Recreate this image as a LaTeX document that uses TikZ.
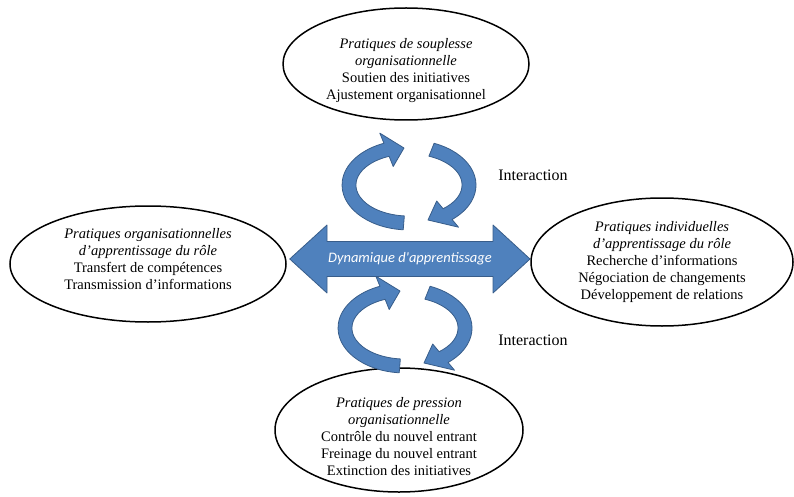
\documentclass[tikz,border=0pt]{standalone}
\usepackage{fontspec}
\setmainfont{Liberation Serif}
\newfontfamily\carlito{Carlito}
\usepackage{tikz}
\usetikzlibrary{shapes.geometric, calc}
\definecolor{loopblue}{HTML}{4F81BD}
\definecolor{edgeblue}{HTML}{385D8A}

\tikzset{
    turnpair/.pic={
        \filldraw[cyclearrow] (-5.8,44.8) arc[start angle=-95, end angle=-248, x radius=67pt, y radius=45pt]
            -- (-29.2,-51.9) -- (-5,-37) -- (-15.8,-18.5) -- (-19.9,-28.7)
            arc[start angle=-248, end angle=-95, x radius=53pt, y radius=31pt] -- cycle;
        \filldraw[cyclearrow] (25.1,-41.7) arc[start angle=-292, end angle=-410, x radius=67pt, y radius=45pt]
            -- (49.5,42.2) -- (19,35) -- (27.7,16) -- (34.1,23.7)
            arc[start angle=-410, end angle=-292, x radius=53pt, y radius=31pt] -- cycle;
    }
}

\begin{document}
\begin{tikzpicture}[
    x=1pt, y=-1pt,
    practice/.style={ellipse, draw, line width=1.5pt, inner sep=0pt},
    practicetext/.style={align=center, font=\fontsize{14.5}{17}\selectfont, inner sep=0pt},
    cyclearrow/.style={fill=loopblue, draw=edgeblue, line width=0.8pt, line join=round},
    dynarrow/.style={fill=loopblue, draw=edgeblue, line width=0.8pt, line join=round}
]
\useasboundingbox (0,0) rectangle (794,497);

% the four practices
\node[practice, minimum width=246pt, minimum height=112pt] (soup) at (406,64) {};
\node[practicetext, yshift=-7pt] (souptxt) at (soup) {\textit{Pratiques de souplesse}\\\textit{organisationnelle}\\Soutien des initiatives\\Ajustement organisationnel};

\node[practice, minimum width=276pt, minimum height=116pt] (orga) at (148,264) {};
\node[practicetext, yshift=5pt] (orgatxt) at (orga) {\textit{Pratiques organisationnelles}\\\textit{d'apprentissage du rôle}\\Transfert de compétences\\Transmission d'informations};

\node[practice, minimum width=262pt, minimum height=128pt] (indiv) at (662,262) {};
\node[practicetext] (indivtxt) at (indiv) {\textit{Pratiques individuelles}\\\textit{d'apprentissage du rôle}\\Recherche d'informations\\Négociation de changements\\Développement de relations};

\node[practice, minimum width=248pt, minimum height=124pt] (press) at (399,430) {};
\node[practicetext, yshift=-7pt] (presstxt) at (press) {\textit{Pratiques de pression}\\\textit{organisationnelle}\\Contrôle du nouvel entrant\\Freinage du nouvel entrant\\Extinction des initiatives};

% interactions
\pic at (409,185) {turnpair};
\pic at (405,328) {turnpair};
\node[font=\fontsize{16}{18}\selectfont] (inter1) at (533,175) {Interaction};
\node[font=\fontsize{16}{18}\selectfont] (inter2) at (533,340) {Interaction};

% central arrow, from orga to indiv
\filldraw[dynarrow] (orga.east) ++(3,-5) -- (327,225) -- (327,241.5) -- (493,241.5) -- (493,225)
    -- (530,259) -- (493,293) -- (493,276.5) -- (327,276.5) -- (327,293) -- cycle;
\node[text=white, font=\carlito\itshape\fontsize{14.5}{17}\selectfont] (dyn) at (410,259) {Dynamique d'apprentissage};

\end{tikzpicture}
\end{document}
